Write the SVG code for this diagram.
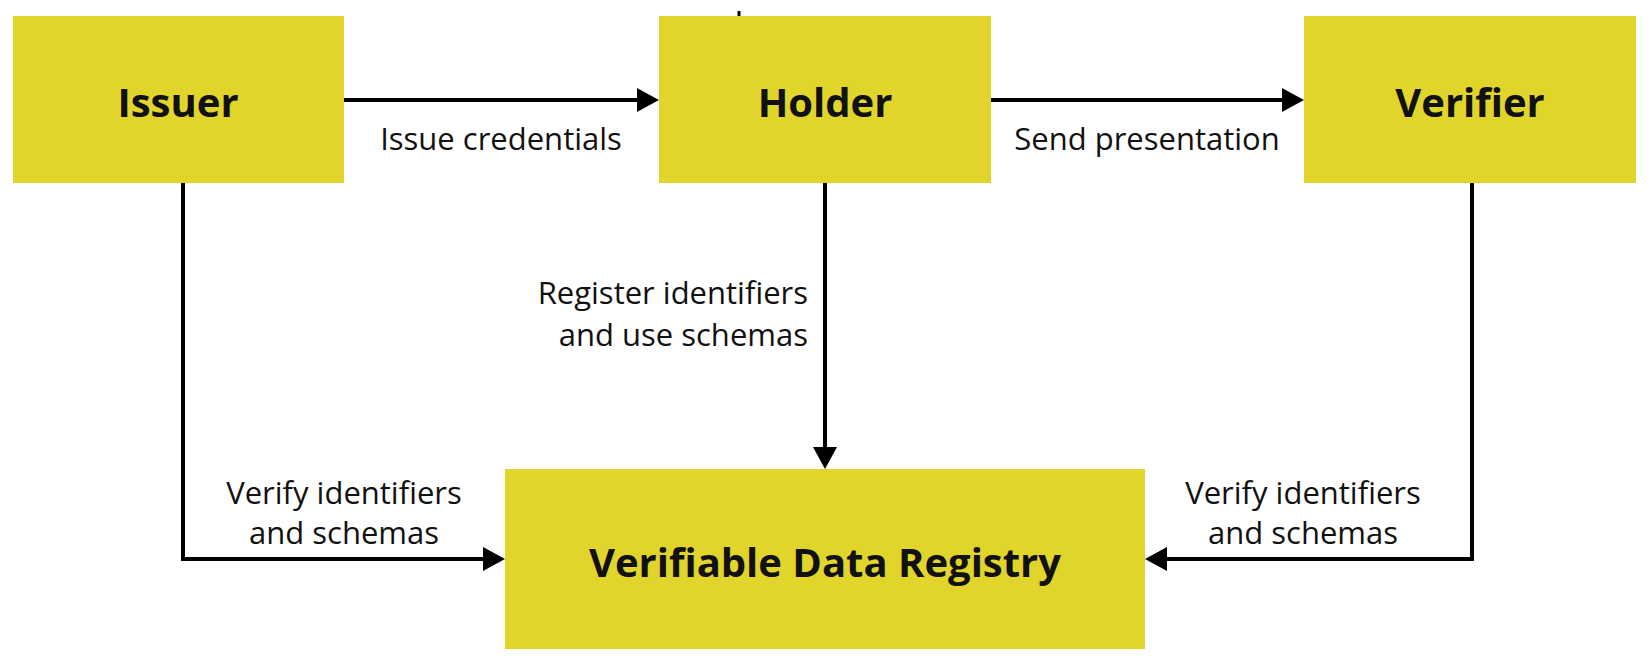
<svg xmlns="http://www.w3.org/2000/svg" width="1650" height="662" viewBox="0 0 1650 662">
<style>
.box{fill:#E1D52B}
.title{font-family:"Open Sans","Liberation Sans",sans-serif;font-weight:700;font-size:40px;fill:#111;text-anchor:middle}
.lbl{font-family:"Open Sans","Liberation Sans",sans-serif;font-size:31px;fill:#111}
.c{text-anchor:middle}
.r{text-anchor:end}
.conn{fill:none;stroke:#000;stroke-width:4}
</style>
<defs>
<marker id="arr" markerUnits="userSpaceOnUse" markerWidth="22" markerHeight="24" refX="12" refY="12" orient="auto">
<path d="M0,0 L22,12 L0,24 z" fill="#000"/>
</marker>
</defs>
<rect width="1650" height="662" fill="#fff"/>
<g id="connectors">
<path class="conn" d="M344,100 H649" marker-end="url(#arr)"/>
<path class="conn" d="M991,100 H1294" marker-end="url(#arr)"/>
<path class="conn" d="M825,183 V459" marker-end="url(#arr)"/>
<path class="conn" d="M183,183 V559 H495" marker-end="url(#arr)"/>
<path class="conn" d="M1472,183 V559 H1155" marker-end="url(#arr)"/>
<line x1="739" y1="11" x2="739" y2="16" stroke="#000" stroke-width="3"/>
<text class="lbl c" x="501" y="150">Issue credentials</text>
<text class="lbl c" x="1147" y="150">Send presentation</text>
<text class="lbl r" x="808" y="304">Register identifiers</text>
<text class="lbl r" x="808" y="346">and use schemas</text>
<text class="lbl c" x="344" y="504">Verify identifiers</text>
<text class="lbl c" x="344" y="544">and schemas</text>
<text class="lbl c" x="1303" y="504">Verify identifiers</text>
<text class="lbl c" x="1303" y="544">and schemas</text>
</g>
<g id="issuer"><rect class="box" x="13" y="16" width="331" height="167"/><text class="title" x="178" y="117">Issuer</text></g>
<g id="holder"><rect class="box" x="659" y="16" width="332" height="167"/><text class="title" x="825" y="117">Holder</text></g>
<g id="verifier"><rect class="box" x="1304" y="16" width="332" height="167"/><text class="title" x="1470" y="117">Verifier</text></g>
<g id="registry"><rect class="box" x="505" y="469" width="640" height="180"/><text class="title" x="825" y="577">Verifiable Data Registry</text></g>
</svg>
